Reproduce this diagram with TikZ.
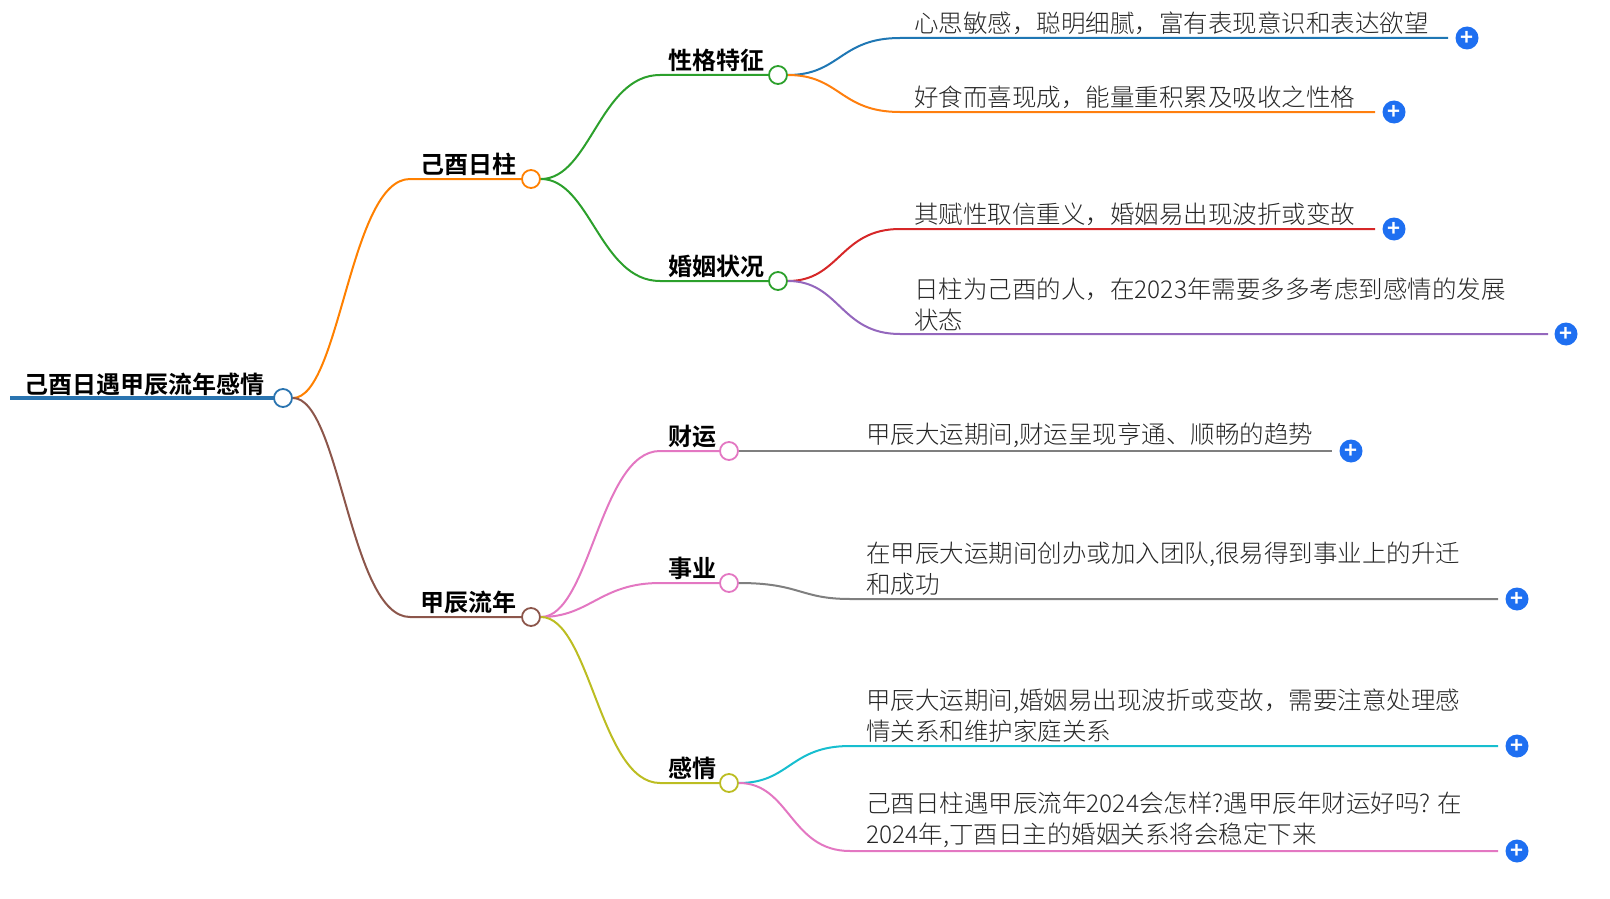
\documentclass[tikz,border=0pt]{standalone}
\usepackage{fontspec}
\setmainfont{Noto Sans CJK SC Light}
\newfontfamily\cjkb{Noto Sans CJK SC Bold}
\begin{document}
\begin{tikzpicture}[x=1pt,y=-1pt,
  dot/.style={circle,draw,fill=white,line width=1.8pt,minimum size=18pt,inner sep=0pt},
  plus/.style={circle,minimum size=23pt,inner sep=0pt,text=white,font=\cjkb\fontsize{22}{22}\selectfont},
  lbl/.style={anchor=south west,inner sep=0pt,font=\cjkb\fontsize{24}{24}\selectfont},
  leaf/.style={anchor=south west,inner sep=0pt,align=left,font=\fontsize{24.5}{31}\selectfont,text=black!85},
  ln/.style={line width=2pt}]
\useasboundingbox (0,0) rectangle (1610,899);
\definecolor{cplus}{HTML}{1E6FF1}
\definecolor{rootc}{HTML}{2A74B0}
\tikzset{plus/.append style={fill=cplus}}
% root
\node[lbl] (rt) at (24,396) {己酉日遇甲辰流年感情};
\draw[line width=4.5pt,color=rootc] (10,398) -- (283,398);
\node[dot,draw=rootc] (r) at (283,398) {};
% level 1
\node[dot,draw=orange] (a) at (531,179) {};
\node[lbl] at (420,176) {己酉日柱};
\draw[ln,orange] (r) .. controls (340,398) and (350,179) .. (410,179) -- (a);
\definecolor{br}{HTML}{8C564B}
\node[dot,draw=br] (b) at (531,617) {};
\node[lbl] at (420,614) {甲辰流年};
\draw[ln,br] (r) .. controls (340,398) and (350,617) .. (410,617) -- (b);
% level 2 under a
\definecolor{gn}{HTML}{2CA02C}
\node[dot,draw=gn] (a1) at (778,75) {};
\node[lbl] at (668,72) {性格特征};
\draw[ln,gn] (a) .. controls (590,179) and (600,75) .. (660,75) -- (a1);
\node[dot,draw=gn] (a2) at (778,281) {};
\node[lbl] at (668,278) {婚姻状况};
\draw[ln,gn] (a) .. controls (590,179) and (600,281) .. (660,281) -- (a2);
% level 2 under b
\definecolor{pk}{HTML}{E377C2}\definecolor{ol}{HTML}{BCBD22}
\node[dot,draw=pk] (b1) at (729,451) {};
\node[lbl] at (668,448) {财运};
\draw[ln,pk] (b) .. controls (590,617) and (600,451) .. (660,451) -- (b1);
\node[dot,draw=pk] (b2) at (729,583) {};
\node[lbl] at (668,580) {事业};
\draw[ln,pk] (b) .. controls (590,617) and (600,583) .. (660,583) -- (b2);
\node[dot,draw=ol] (b3) at (729,783) {};
\node[lbl] at (668,780) {感情};
\draw[ln,ol] (b) .. controls (590,617) and (600,783) .. (660,783) -- (b3);
% leaves
\definecolor{c1}{HTML}{1F77B4}\definecolor{c2}{HTML}{FF7F0E}\definecolor{c3}{HTML}{D62728}\definecolor{c4}{HTML}{9467BD}\definecolor{gr}{HTML}{7F7F7F}\definecolor{cy}{HTML}{17BECF}
\node[plus] (p1) at (1467,38) {+};
\node[leaf] at (914,35) {心思敏感，聪明细腻，富有表现意识和表达欲望};
\draw[ln,c1] (a1) .. controls (840,75) and (840,38) .. (900,38) -- (1448,38);
\node[plus] (p2) at (1394,112) {+};
\node[leaf] at (914,109) {好食而喜现成，能量重积累及吸收之性格};
\draw[ln,c2] (a1) .. controls (840,75) and (840,112) .. (900,112) -- (1375,112);
\node[plus] (p3) at (1394,229) {+};
\node[leaf] at (914,226) {其赋性取信重义，婚姻易出现波折或变故};
\draw[ln,c3] (a2) .. controls (840,281) and (840,229) .. (900,229) -- (1375,229);
\node[plus] (p4) at (1566,334) {+};
\node[leaf] at (914,331) {日柱为己酉的人，在2023年需要多多考虑到感情的发展\\状态};
\draw[ln,c4] (a2) .. controls (840,281) and (840,334) .. (900,334) -- (1548,334);
\node[plus] (p5) at (1351,451) {+};
\node[leaf] at (866,448) {甲辰大运期间,财运呈现亨通、顺畅的趋势};
\draw[ln,gr] (b1) -- (1332,451);
\node[plus] (p6) at (1517,599) {+};
\node[leaf] at (866,596) {在甲辰大运期间创办或加入团队,很易得到事业上的升迁\\和成功};
\draw[ln,gr] (b2) .. controls (800,583) and (800,599) .. (850,599) -- (1498,599);
\node[plus] (p7) at (1517,746) {+};
\node[leaf] at (866,743) {甲辰大运期间,婚姻易出现波折或变故，需要注意处理感\\情关系和维护家庭关系};
\draw[ln,cy] (b3) .. controls (790,783) and (790,746) .. (850,746) -- (1498,746);
\node[plus] (p8) at (1517,851) {+};
\node[leaf] at (866,848) {己酉日柱遇甲辰流年2024会怎样?遇甲辰年财运好吗? 在\\2024年,丁酉日主的婚姻关系将会稳定下来};
\draw[ln,pk] (b3) .. controls (790,783) and (790,851) .. (850,851) -- (1498,851);
\end{tikzpicture}
\end{document}
